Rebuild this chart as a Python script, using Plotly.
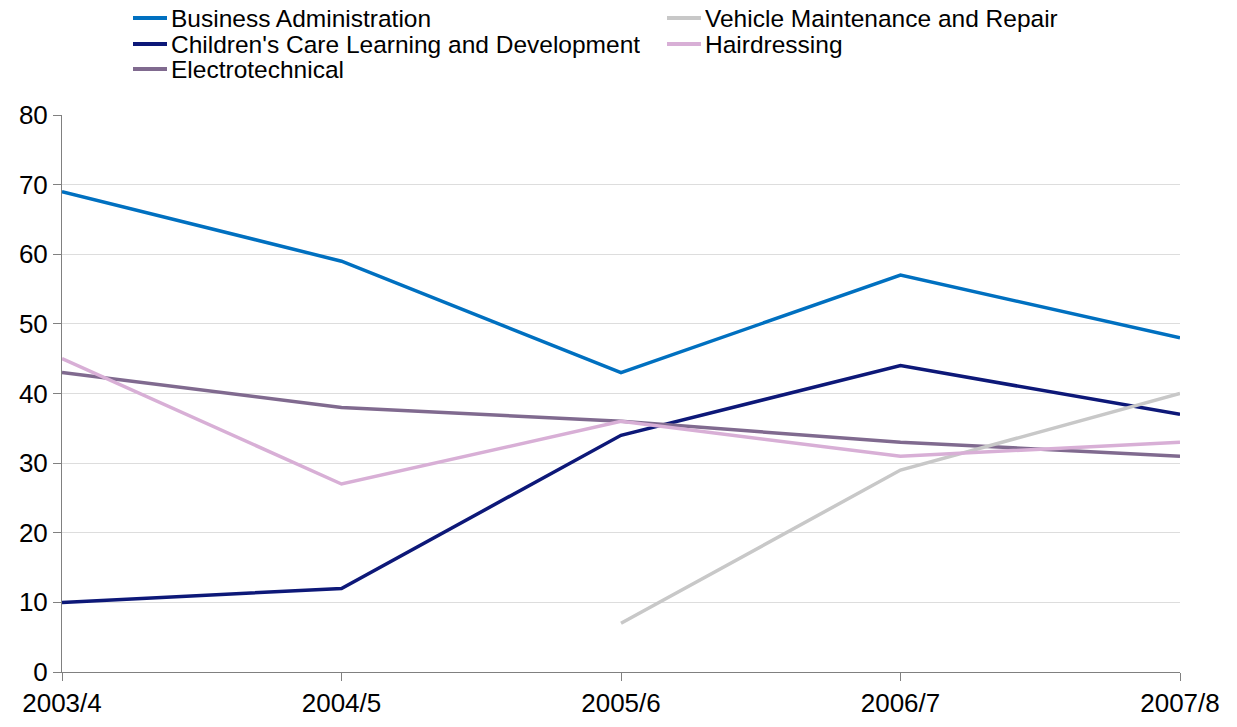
import plotly.graph_objects as go

years = ["2003/4", "2004/5", "2005/6", "2006/7", "2007/8"]
business_admin = [69, 59, 43, 57, 48]
childrens_care = [10, 12, 34, 44, 37]
electrotechnical = [43, 38, 36, 33, 31]
vehicle_maint = [None, None, 7, 29, 40]
hairdressing = [45, 27, 36, 31, 33]

names = ["Business Administration", "Children's Care Learning and Development",
         "Electrotechnical", "Vehicle Maintenance and Repair", "Hairdressing"]
values = [business_admin, childrens_care, electrotechnical, vehicle_maint, hairdressing]
colors = ["#0070C0", "#0D1878", "#806A8F", "#C8C8C8", "#D8AFD6"]

OFF = 8  # page body margin
W, H = 1237 - 2 * OFF, 727 - 2 * OFF
L, T = 62 - OFF, 115 - OFF
R = W - (1180 - OFF)
B = H - (672 - OFF)
pw, ph = W - L - R, H - T - B

def px_x(x):  # screen px -> paper
    return (x - OFF - L) / pw

def px_y(y):
    return (H - B - (y - OFF)) / ph

fig = go.Figure()
for name, vals, col in zip(names, values, colors):
    fig.add_trace(go.Scatter(
        x=years, y=vals, name=name, mode="lines",
        line=dict(color=col, width=3.5), connectgaps=False, showlegend=False,
    ))

# legend (two columns, manually laid out)
legend_pos = [(133, 18), (133, 44), (133, 69), (667, 18), (667, 44)]
for name, col, (lx, ly) in zip(names, colors, legend_pos):
    fig.add_shape(type="line", xref="paper", yref="paper",
                  x0=px_x(lx), x1=px_x(lx + 34), y0=px_y(ly), y1=px_y(ly),
                  line=dict(color=col, width=4))
    fig.add_annotation(xref="paper", yref="paper", x=px_x(lx + 37), y=px_y(ly + 2),
                       xanchor="left", yanchor="middle", text=name, showarrow=False,
                       borderpad=0, height=24, valign="bottom",
                       font=dict(size=24.5, color="black"))

fig.update_layout(
    width=W, height=H,
    margin=dict(l=L, r=R, t=T, b=B, autoexpand=False),
    paper_bgcolor="white", plot_bgcolor="white",
    font=dict(family="Liberation Sans, Arial, sans-serif", size=26, color="black"),
    showlegend=False,
    xaxis=dict(
        type="category", range=[0, 4], showgrid=False, automargin=False,
        showline=True, linecolor="#808080", linewidth=1,
        ticks="outside", ticklen=8, tickcolor="#808080",
        tickfont=dict(size=26), zeroline=False,
    ),
    yaxis=dict(
        range=[0, 80], dtick=10, showgrid=True, gridcolor="#DDDDDD", gridwidth=1,
        showline=True, linecolor="#808080", linewidth=1, automargin=False,
        ticks="outside", ticklen=8, tickcolor="#808080",
        tickfont=dict(size=26), zeroline=False,
    ),
)

fig.write_html("out.html")
